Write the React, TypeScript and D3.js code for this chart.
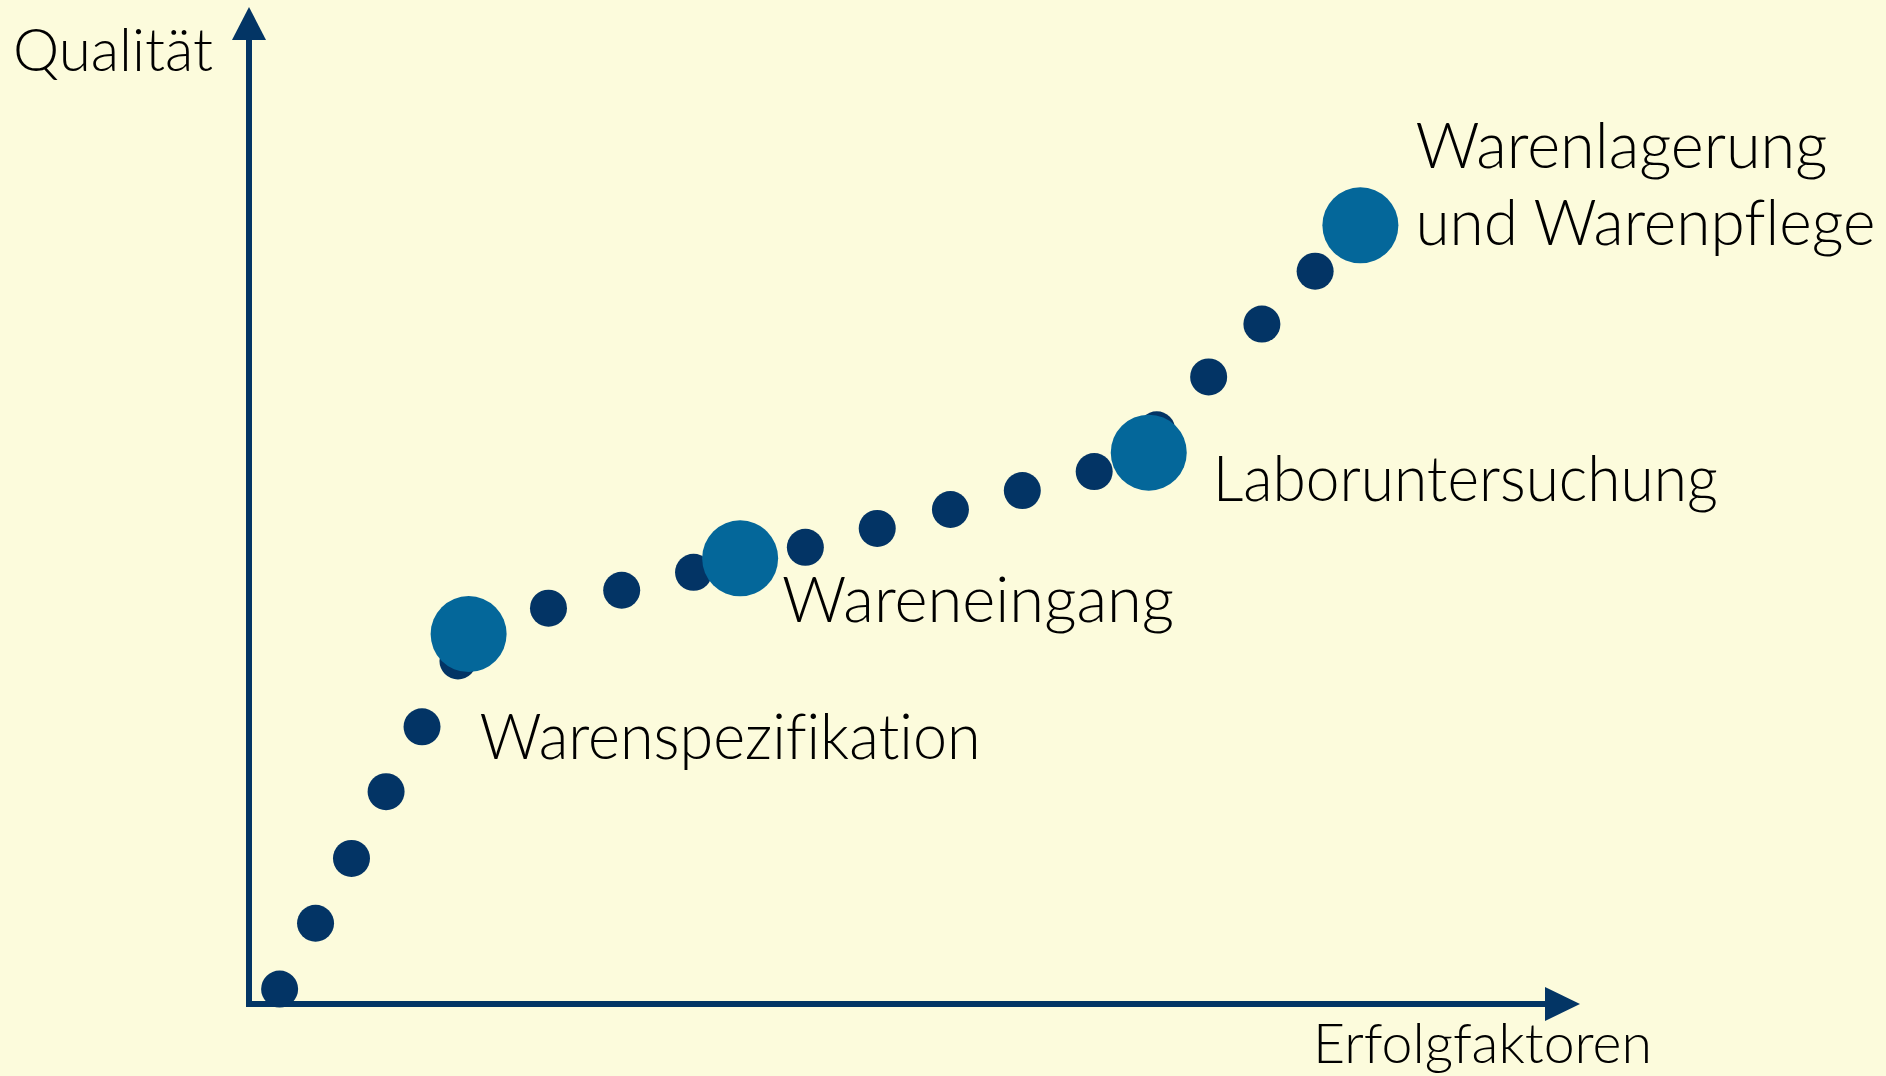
import React, { useRef, useEffect } from "react";
import * as d3 from "d3";

// Kleine Punkte entlang der Kurve (Erfolgfaktoren, Qualität)
const stepX = [2.3, 5.0, 7.7, 10.3, 13.0, 15.7, 22.5, 28.0, 33.4, 41.8, 47.2, 52.7, 58.1, 63.5, 68.2, 72.1, 76.1, 80.1];
const stepY = [1.5, 8.1, 14.6, 21.3, 27.8, 34.4, 39.7, 41.5, 43.3, 45.8, 47.7, 49.6, 51.5, 53.4, 57.6, 62.9, 68.2, 73.5];

// Meilensteine (große Punkte)
const milestoneNames = ["Warenspezifikation", "Wareneingang", "Laboruntersuchung", "Warenlagerung\nund Warenpflege"];
const milestoneX = [16.5, 36.9, 67.6, 83.5];
const milestoneY = [37.1, 44.7, 55.3, 78.1];

const axisTitleX = "Erfolgfaktoren";
const axisTitleY = "Qualität";

const App = () => {
  const chartRef = useRef<SVGSVGElement | null>(null);

  useEffect(() => {
    document.body.style.margin = "0";

    const width = 1886;
    const height = 1076;
    const origin = { x: 249, y: 1004 };
    const axisColor = "#033565";
    const dotColor = "#033465";
    const bigColor = "#04679A";
    const font = "Lato, 'Open Sans', sans-serif";

    const x = d3.scaleLinear().domain([0, 100]).range([origin.x, 1580]);
    const y = d3.scaleLinear().domain([0, 100]).range([origin.y, 7]);

    const svg = d3.select(chartRef.current);
    svg.selectAll("*").remove();

    svg.append("rect").attr("width", width).attr("height", height).attr("fill", "#FCFBDC");

    // Achsen mit Pfeilspitzen
    svg
      .append("line")
      .attr("x1", x(0))
      .attr("x2", x(0))
      .attr("y1", origin.y + 3)
      .attr("y2", y(100) + 30)
      .attr("stroke", axisColor)
      .attr("stroke-width", 6);
    svg
      .append("path")
      .attr("d", `M${x(0)},${y(100)} L${x(0) + 17},${y(100) + 33} L${x(0) - 17},${y(100) + 33} Z`)
      .attr("fill", axisColor);

    svg
      .append("line")
      .attr("x1", origin.x - 3)
      .attr("x2", x(100) - 30)
      .attr("y1", y(0))
      .attr("y2", y(0))
      .attr("stroke", axisColor)
      .attr("stroke-width", 6);
    svg
      .append("path")
      .attr("d", `M${x(100)},${y(0)} L${x(100) - 35},${y(0) - 17} L${x(100) - 35},${y(0) + 17} Z`)
      .attr("fill", axisColor);

    const textStyle = "font-variant-ligatures: none; font-kerning: normal";

    svg
      .append("text")
      .attr("x", 13)
      .attr("y", 71)
      .attr("font-family", font)
      .attr("font-weight", 300)
      .attr("font-size", 59)
      .attr("textLength", 200)
      .attr("lengthAdjust", "spacingAndGlyphs")
      .attr("style", textStyle)
      .attr("fill", "#000")
      .text(axisTitleY);

    svg
      .append("text")
      .attr("x", 1313)
      .attr("y", 1063)
      .attr("font-family", font)
      .attr("font-weight", 300)
      .attr("font-size", 56)
      .attr("textLength", 339)
      .attr("lengthAdjust", "spacingAndGlyphs")
      .attr("style", textStyle)
      .attr("fill", "#000")
      .text(axisTitleX);

    const steps = stepX.map((v, i) => ({ x: v, y: stepY[i] }));
    svg
      .append("g")
      .attr("fill", dotColor)
      .selectAll("circle")
      .data(steps)
      .join("circle")
      .attr("cx", (d) => x(d.x))
      .attr("cy", (d) => y(d.y))
      .attr("r", 18.5);

    const milestones = milestoneNames.map((n, i) => ({ name: n, x: milestoneX[i], y: milestoneY[i] }));
    svg
      .append("g")
      .attr("fill", bigColor)
      .selectAll("circle")
      .data(milestones)
      .join("circle")
      .attr("cx", (d) => x(d.x))
      .attr("cy", (d) => y(d.y))
      .attr("r", 38);

    // Beschriftung: Versatz zum Punkt und Breite je Zeile
    const labelOffsets = [
      { dx: 11, dy: 124.5, widths: [501] },
      { dx: 42, dy: 64, widths: [392] },
      { dx: 64, dy: 48.5, widths: [505] },
      { dx: 55, dy: -57.5, widths: [412, 460] },
    ];

    milestones.forEach((m, i) => {
      const off = labelOffsets[i];
      m.name.split("\n").forEach((line, j) => {
        svg
          .append("text")
          .attr("x", x(m.x) + off.dx)
          .attr("y", y(m.y) + off.dy + j * 77)
          .attr("font-family", font)
          .attr("font-weight", 300)
          .attr("font-size", 63)
          .attr("textLength", off.widths[j])
          .attr("lengthAdjust", "spacingAndGlyphs")
          .attr("style", textStyle)
          .attr("fill", "#000")
          .text(line);
      });
    });
  }, []);

  return <svg ref={chartRef} width={1886} height={1076} style={{ display: "block" }}></svg>;
};

export default App;
